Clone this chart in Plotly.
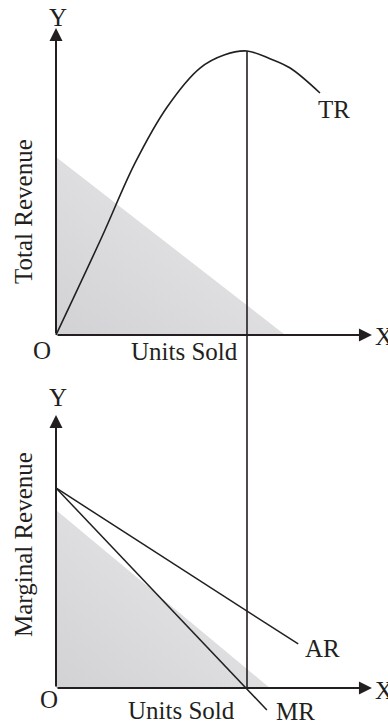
import plotly.graph_objects as go

# --- data ---
# upper panel: total revenue curve
units_tr = [0, 1.2, 2.07, 2.91, 3.77, 4.4, 5.0, 5.6, 6.13, 6.91]
total_rev = [0, 34.5, 60.6, 80.3, 94.0, 98.6, 100, 97.3, 94.0, 85.2]

# lower panel: average and marginal revenue
ar_units = [0, 6.34]
avg_rev = [10, 2.2]
mr_units = [0, 5.52]
marg_rev = [10, -1.1]

peak_units = 5.0          # output where TR is at max / MR = 0

# grey triangles behind the curves: (x where it meets the x axis, height on y axis)
shade_top = (6.0, 62.7)
shade_bottom = (5.6, 8.9)

# axis arrow tips
x_tip = 8.27
y_tip_top = 108.1
y_tip_bottom = 13.65

INK = '#231f20'
FONT = 'Liberation Serif'

X_RANGE = [-1.466, 8.691]
Y1_RANGE = [-13.03, 117.96]
Y1_DOM = [0.4869, 1.0]
Y2_RANGE = [-1.85, 15.4]
Y2_DOM = [0.0, 0.4759]


def to_paper(v, rng, dom):
    return dom[0] + (v - rng[0]) / (rng[1] - rng[0]) * (dom[1] - dom[0])


def shade(fig, x_end, height, yaxis):
    xs = [0, x_end, 0, 0]
    ys = [0, 0, height, 0]
    fig.add_trace(go.Scatter(x=xs, y=ys, yaxis=yaxis, fill='toself', mode='lines',
                             line=dict(width=0), fillcolor='#ebebed', hoverinfo='skip'))
    fig.add_trace(go.Scatter(x=xs, y=ys, yaxis=yaxis, fill='toself', mode='lines',
                             line=dict(width=0), hoverinfo='skip',
                             fillgradient=dict(type='horizontal',
                                               colorscale=[[0, 'rgba(50,50,60,0.07)'],
                                                           [1, 'rgba(50,50,60,0)']])))
    fig.add_trace(go.Scatter(x=xs, y=ys, yaxis=yaxis, fill='toself', mode='lines',
                             line=dict(width=0), hoverinfo='skip',
                             fillgradient=dict(type='vertical',
                                               colorscale=[[0, 'rgba(50,50,60,0.07)'],
                                                           [1, 'rgba(50,50,60,0)']])))


fig = go.Figure()

shade(fig, shade_top[0], shade_top[1], 'y')
shade(fig, shade_bottom[0], shade_bottom[1], 'y2')

fig.add_trace(go.Scatter(x=units_tr, y=total_rev, mode='lines', yaxis='y',
                         line=dict(color=INK, width=1.6, shape='spline', smoothing=1.0)))
fig.add_trace(go.Scatter(x=ar_units, y=avg_rev, mode='lines', yaxis='y2',
                         line=dict(color=INK, width=1.5)))
fig.add_trace(go.Scatter(x=mr_units, y=marg_rev, mode='lines', yaxis='y2',
                         line=dict(color=INK, width=1.5)))

# vertical line from TR peak down to the lower x axis
fig.add_shape(type='line', xref='x', yref='paper', layer='above',
              x0=peak_units, x1=peak_units,
              y0=to_paper(0, Y2_RANGE, Y2_DOM),
              y1=to_paper(max(total_rev), Y1_RANGE, Y1_DOM),
              line=dict(color=INK, width=1.6))

# axes drawn as arrows
arrows = [
    (x_tip, 0, 'y'), (0, y_tip_top, 'y'),
    (x_tip, 0, 'y2'), (0, y_tip_bottom, 'y2'),
]
for ex, ey, ya in arrows:
    fig.add_annotation(x=ex, y=ey, ax=0, ay=0, xref='x', yref=ya, axref='x', ayref=ya,
                       text='', showarrow=True, arrowhead=2, arrowsize=1.3,
                       arrowwidth=2, arrowcolor=INK, standoff=0)

labels = [
    ('Y', 58, 17, 0), ('X', 384, 336, 0), ('O', 42, 350, 0),
    ('Units Sold', 184, 352, 0), ('TR', 334, 109, 0),
    ('Total Revenue', 23, 212, -90),
    ('Y', 58, 397, 0), ('X', 384, 690, 0), ('O', 49, 699, 0),
    ('Units Sold', 181, 710, 0), ('AR', 322, 648, 0), ('MR', 295, 711, 0),
    ('Marginal Revenue', 23, 545, -90),
]
for txt, px, py, ang in labels:
    fig.add_annotation(x=px / 388, y=1 - py / 725, xref='paper', yref='paper',
                       text=txt, showarrow=False, textangle=ang,
                       xanchor='center', yanchor='middle',
                       font=dict(family=FONT, size=25, color=INK))

fig.update_layout(
    width=388, height=725,
    margin=dict(l=0, r=0, t=0, b=0, pad=0, autoexpand=False),
    paper_bgcolor='white', plot_bgcolor='white',
    showlegend=False,
    xaxis=dict(range=X_RANGE, domain=[0, 1], visible=False, fixedrange=True),
    yaxis=dict(range=Y1_RANGE, domain=Y1_DOM, visible=False, anchor='x'),
    yaxis2=dict(range=Y2_RANGE, domain=Y2_DOM, visible=False, anchor='x'),
)

# page has a default 8px body margin; drop it so the figure sits at the corner
fig.write_html("out.html", config={'displayModeBar': False},
               post_script="document.body.style.margin='0';")
